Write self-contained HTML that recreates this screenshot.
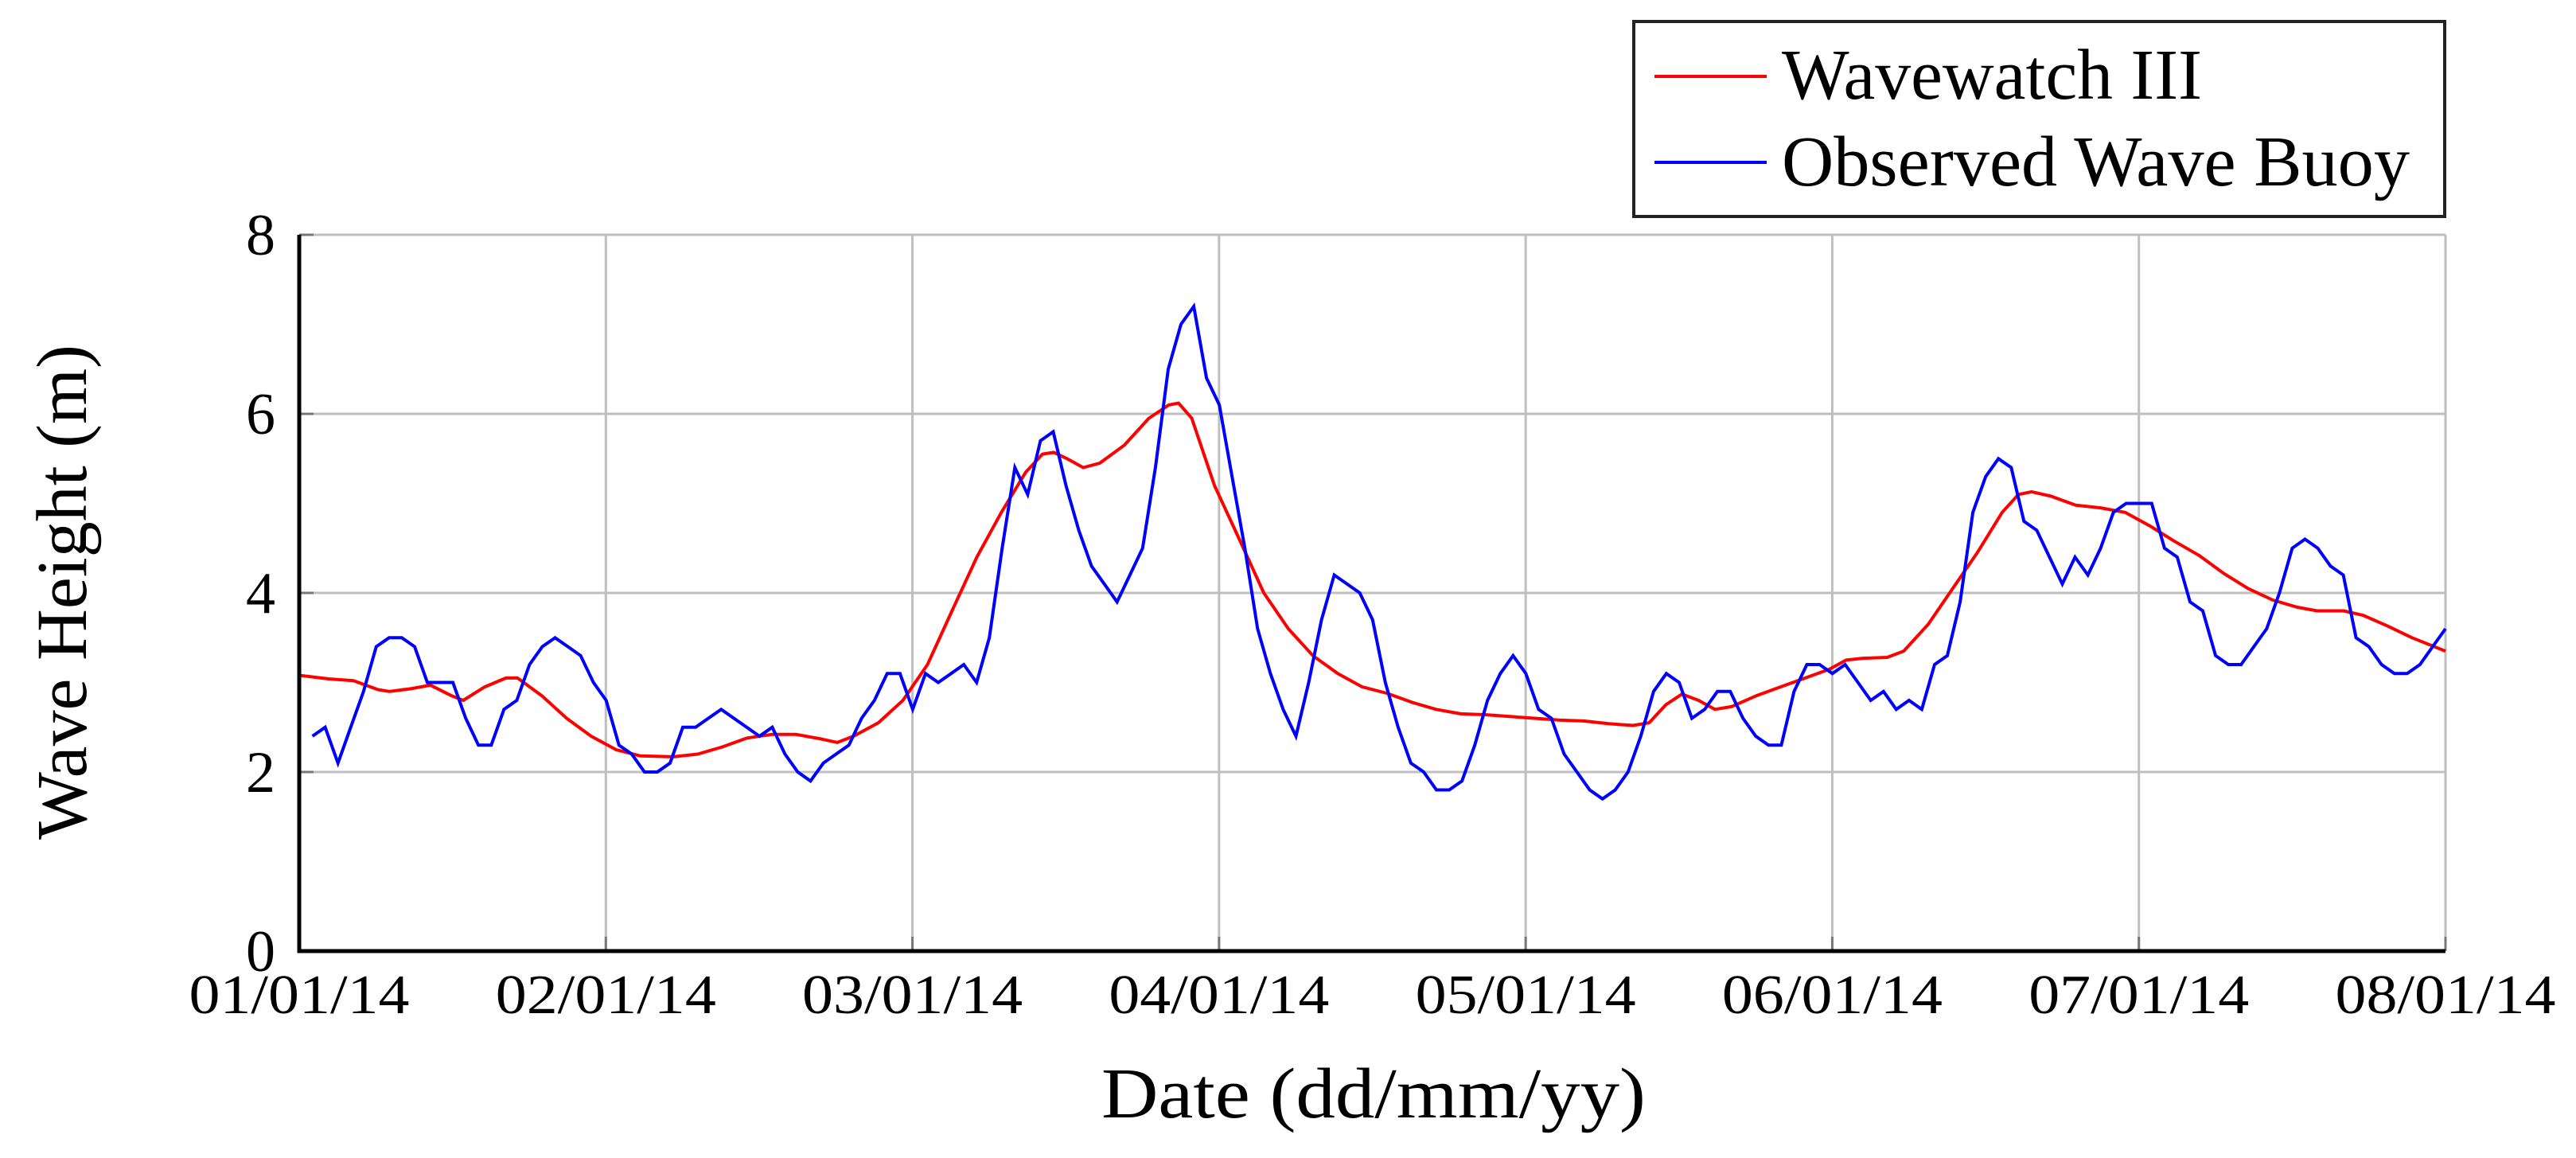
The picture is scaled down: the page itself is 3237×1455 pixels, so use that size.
<!DOCTYPE html>
<html><head><meta charset="utf-8"><style>
html,body{margin:0;padding:0;background:#fff;}
svg{display:block;font-family:"Liberation Serif",serif;}
</style></head><body>
<svg id="chart" width="3237" height="1455" viewBox="0 0 3237 1455" xmlns="http://www.w3.org/2000/svg">
<g id="grid"></g>
<g id="series"></g>
<g id="axes"></g>
<text transform="translate(108,744) rotate(-90)" text-anchor="middle" font-size="90" textLength="622" lengthAdjust="spacingAndGlyphs">Wave Height (m)</text>
<text x="1726" y="1404" text-anchor="middle" font-size="90" textLength="684" lengthAdjust="spacingAndGlyphs">Date (dd/mm/yy)</text>
<g>
<rect x="2053" y="27" width="1019" height="245" fill="#fff" stroke="#222" stroke-width="4"/>
<line x1="2079" y1="96" x2="2220" y2="96" stroke="#f00" stroke-width="4"/>
<text x="2239" y="124" font-size="90" textLength="528" lengthAdjust="spacingAndGlyphs">Wavewatch III</text>
<line x1="2079" y1="204" x2="2220" y2="204" stroke="#00f" stroke-width="4"/>
<text x="2239" y="233" font-size="90" textLength="789" lengthAdjust="spacingAndGlyphs">Observed Wave Buoy</text>
</g>
</svg>
<script>
const xTickLabels = ["01/01/14","02/01/14","03/01/14","04/01/14","05/01/14","06/01/14","07/01/14","08/01/14"];
const yTicks = [0,2,4,6,8];
// Observed buoy values (uniformly sampled from t=0.043 to t=7 months)
const buoyStart = 0.043;
const buoyEnd = 7;
const buoyValues = [2.4,2.5,2.1,2.5,2.9,3.4,3.5,3.5,3.4,3.0,
3.0,3.0,2.6,2.3,2.3,2.7,2.8,3.2,3.4,3.5,
3.4,3.3,3.0,2.8,2.3,2.2,2.0,2.0,2.1,2.5,
2.5,2.6,2.7,2.6,2.5,2.4,2.5,2.2,2.0,1.9,
2.1,2.2,2.3,2.6,2.8,3.1,3.1,2.7,3.1,3.0,
3.1,3.2,3.0,3.5,4.5,5.4,5.1,5.7,5.8,5.2,
4.7,4.3,4.1,3.9,4.2,4.5,5.4,6.5,7.0,7.2,
6.4,6.1,5.3,4.5,3.6,3.1,2.7,2.4,3.0,3.7,
4.2,4.1,4.0,3.7,3.0,2.5,2.1,2.0,1.8,1.8,
1.9,2.3,2.8,3.1,3.3,3.1,2.7,2.6,2.2,2.0,
1.8,1.7,1.8,2.0,2.4,2.9,3.1,3.0,2.6,2.7,
2.9,2.9,2.6,2.4,2.3,2.3,2.9,3.2,3.2,3.1,
3.2,3.0,2.8,2.9,2.7,2.8,2.7,3.2,3.3,3.9,
4.9,5.3,5.5,5.4,4.8,4.7,4.4,4.1,4.4,4.2,
4.5,4.9,5.0,5.0,5.0,4.5,4.4,3.9,3.8,3.3,
3.2,3.2,3.4,3.6,4.0,4.5,4.6,4.5,4.3,4.2,
3.5,3.4,3.2,3.1,3.1,3.2,3.4,3.6];
// Wavewatch III model: time (months since 01/01/14) and value
const modelT = [0,0.096,0.177,0.257,0.294,0.364,0.428,0.498,0.535,0.605,0.674,0.712,0.792,0.872,0.952,1.033,1.113,1.220,1.300,1.380,1.461,1.541,1.621,1.701,1.755,1.808,1.889,1.969,2.049,2.129,2.210,2.290,2.370,2.424,2.461,2.504,2.557,2.611,2.691,2.771,2.836,2.868,2.911,2.985,3.066,3.146,3.226,3.306,3.387,3.467,3.547,3.628,3.708,3.788,3.868,3.949,4.029,4.109,4.189,4.270,4.350,4.403,4.457,4.510,4.564,4.617,4.671,4.751,4.831,4.912,4.992,5.045,5.099,5.179,5.233,5.313,5.393,5.473,5.554,5.607,5.650,5.714,5.794,5.875,5.955,6.035,6.115,6.196,6.276,6.356,6.437,6.517,6.581,6.667,6.731,6.811,6.891,7.0];
const modelV = [3.08,3.04,3.02,2.92,2.9,2.93,2.97,2.85,2.8,2.95,3.05,3.05,2.85,2.6,2.4,2.25,2.18,2.17,2.2,2.28,2.38,2.42,2.42,2.37,2.33,2.4,2.55,2.8,3.2,3.8,4.4,4.9,5.35,5.55,5.57,5.5,5.4,5.45,5.65,5.95,6.1,6.12,5.95,5.2,4.6,4.0,3.6,3.3,3.1,2.95,2.88,2.78,2.7,2.65,2.64,2.62,2.6,2.58,2.57,2.54,2.52,2.55,2.75,2.87,2.8,2.7,2.73,2.85,2.95,3.05,3.15,3.25,3.27,3.28,3.35,3.65,4.05,4.45,4.9,5.1,5.13,5.08,4.98,4.95,4.9,4.75,4.58,4.42,4.22,4.05,3.92,3.84,3.8,3.8,3.75,3.63,3.5,3.35];

const NS = "http://www.w3.org/2000/svg";
const L = 376, R = 3073, T = 295, B = 1195;
const xMax = 7, yMax = 8;
function xs(t){ return L + (R - L) * t / xMax; }
function ys(v){ return B - (B - T) * v / yMax; }
function mk(tag, attrs, parent){
  const e = document.createElementNS(NS, tag);
  for (const k in attrs) e.setAttribute(k, attrs[k]);
  parent.appendChild(e);
  return e;
}
const grid = document.getElementById('grid');
const axes = document.getElementById('axes');
const series = document.getElementById('series');

xTickLabels.forEach((lab, i) => {
  const x = xs(i);
  const gl = mk('line', {x1:x, y1:T, x2:x, y2:B, stroke:'#bfbfbf', 'stroke-width':3}, grid);
  
  
  const tk = mk('line', {x1:x, y1:B-18, x2:x, y2:B, stroke:'#777', 'stroke-width':3}, axes);
  
  
  const tx = mk('text', {x:x, y:1273, 'text-anchor':'middle', 'font-size':70, textLength:277, lengthAdjust:'spacingAndGlyphs'}, axes);
  tx.textContent = lab;
  
  
});
yTicks.forEach(v => {
  const y = ys(v);
  const gl = mk('line', {x1:L, y1:y, x2:R, y2:y, stroke:'#bfbfbf', 'stroke-width':3}, grid);
  
  
  const tk = mk('line', {x1:L, y1:y, x2:L+18, y2:y, stroke:'#777', 'stroke-width':3}, axes);
  
  
  const tx = mk('text', {x:346, y:y+25, 'text-anchor':'end', 'font-size':74}, axes);
  tx.textContent = String(v);
  
  
});
const ax = mk('path', {d:`M${L},${T} L${L},${B} L${R},${B}`, fill:'none', stroke:'#000', 'stroke-width':5}, axes);



const mPts = modelT.map((t, i) => xs(t).toFixed(1) + ',' + ys(modelV[i]).toFixed(1)).join(' ');
const mLine = mk('polyline', {points:mPts, fill:'none', stroke:'#ff0000', 'stroke-width':4, 'stroke-linejoin':'round'}, series);



const n = buoyValues.length;
const bPts = buoyValues.map((v, i) => {
  const t = buoyStart + (buoyEnd - buoyStart) * i / (n - 1);
  return xs(t).toFixed(1) + ',' + ys(v).toFixed(1);
}).join(' ');
const bLine = mk('polyline', {points:bPts, fill:'none', stroke:'#0000ff', 'stroke-width':4, 'stroke-linejoin':'miter'}, series);


</script>
</body></html>
